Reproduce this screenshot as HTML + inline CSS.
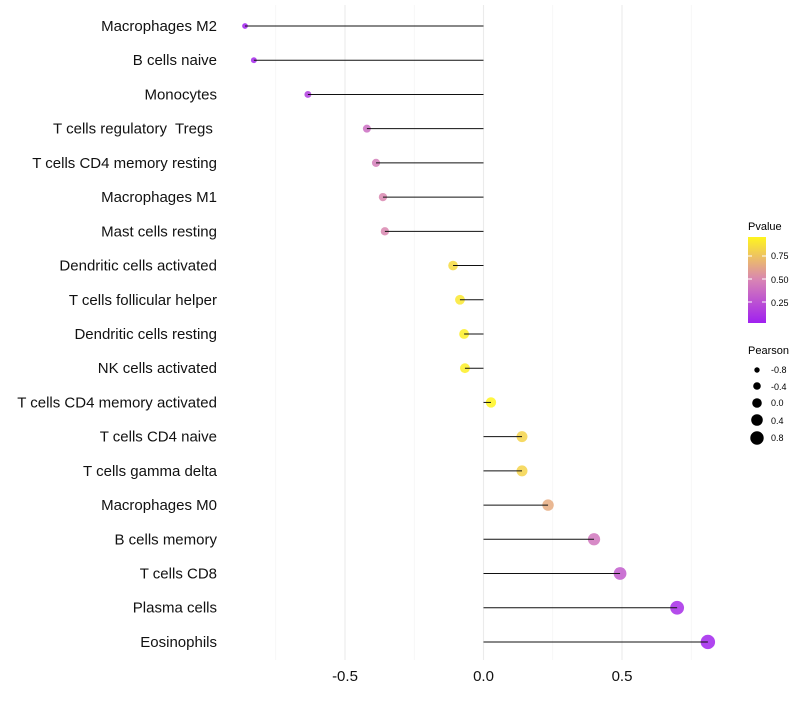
<!DOCTYPE html>
<html><head><meta charset="utf-8"><style>
body{margin:0;background:#fff;font-family:"Liberation Sans",sans-serif;}
text{white-space:pre;}
</style></head><body>
<svg id="chart" width="800" height="700" xmlns="http://www.w3.org/2000/svg">
<defs><linearGradient id="pg" x1="0" y1="1" x2="0" y2="0">
<stop offset="0" stop-color="#a020f0"/><stop offset="0.5" stop-color="#d884b4"/><stop offset="1" stop-color="#fff51e"/></linearGradient></defs>
<g id="grid"></g><g id="marks"></g><g id="labels"></g>
<g font-size="10">
<text x="748" y="230" font-size="11">Pvalue</text>
<rect x="748" y="237" width="18" height="86" fill="url(#pg)"/>
<line x1="748" y1="256" x2="752" y2="256" stroke="#fff"/><line x1="762" y1="256" x2="766" y2="256" stroke="#fff"/>
<line x1="748" y1="279" x2="752" y2="279" stroke="#fff"/><line x1="762" y1="279" x2="766" y2="279" stroke="#fff"/>
<line x1="748" y1="302" x2="752" y2="302" stroke="#fff"/><line x1="762" y1="302" x2="766" y2="302" stroke="#fff"/>
<text x="771" y="259" font-size="9">0.75</text><text x="771" y="283" font-size="9">0.50</text><text x="771" y="306" font-size="9">0.25</text>
</g>
<g font-size="9">
<text x="748" y="354" font-size="11">Pearson</text>
<circle cx="757" cy="370" r="2.7"/><text x="771" y="373">-0.8</text>
<circle cx="757" cy="386" r="3.8"/><text x="771" y="390">-0.4</text>
<circle cx="757" cy="403" r="4.8"/><text x="771" y="406">0.0</text>
<circle cx="757" cy="420" r="5.8"/><text x="771" y="424">0.4</text>
<circle cx="757" cy="438" r="6.7"/><text x="771" y="441">0.8</text>
</g>
</svg>
<script>
const categories=["Macrophages M2","B cells naive","Monocytes","T cells regulatory  Tregs ","T cells CD4 memory resting","Macrophages M1","Mast cells resting","Dendritic cells activated","T cells follicular helper","Dendritic cells resting","NK cells activated","T cells CD4 memory activated","T cells CD4 naive","T cells gamma delta","Macrophages M0","B cells memory","T cells CD8","Plasma cells","Eosinophils"];
const pearson=[-0.861,-0.829,-0.634,-0.421,-0.388,-0.363,-0.356,-0.110,-0.085,-0.070,-0.067,0.027,0.139,0.139,0.233,0.399,0.493,0.699,0.81];
const pvalues=[0.02,0.05,0.15,0.38,0.45,0.5,0.5,0.85,0.9,0.93,0.93,0.96,0.82,0.82,0.65,0.42,0.3,0.08,0.04];
const xTicks=[-0.5,0,0.5];
const xTickLabels=["-0.5","0.0","0.5"];
const minorTicks=[-0.75,-0.25,0.25,0.75];
const NS="http://www.w3.org/2000/svg";
const X=v=>483.5+v*277;
const Y=i=>26+i*34.22;
function col(p){const t=(p-0.02)/(0.956-0.02);const s=[[160,32,240],[216,132,180],[255,245,30]];
 const tt=Math.max(0,Math.min(1,t));let a,b,f;if(tt<0.5){a=s[0];b=s[1];f=tt/0.5}else{a=s[1];b=s[2];f=(tt-0.5)/0.5}
 return `rgb(${a.map((c,k)=>Math.round(c+(b[k]-c)*f)).join(",")})`;}
function mk(tag,attrs,parent){const e=document.createElementNS(NS,tag);for(const k in attrs)e.setAttribute(k,attrs[k]);parent.appendChild(e);return e;}
const grid=document.getElementById('grid'),marks=document.getElementById('marks'),labels=document.getElementById('labels');
minorTicks.forEach(v=>{const l=mk('line',{x1:X(v),x2:X(v),y1:5,y2:660,stroke:'#f2f2f2','stroke-width':0.6},grid);

});
xTicks.forEach((v,i)=>{const l=mk('line',{x1:X(v),x2:X(v),y1:5,y2:660,stroke:'#ebebeb','stroke-width':1.1},grid);


const t=mk('text',{x:X(v),y:681,'text-anchor':'middle','font-size':15,fill:'#111'},labels);t.textContent=xTickLabels[i];

});
categories.forEach((c,i)=>{const y=Y(i);
const t=mk('text',{x:217,y:y+5,'text-anchor':'end','font-size':15,fill:'#111'},labels);t.textContent=c;


const pt=mk('circle',{cx:X(pearson[i]),cy:y,r:5.1+2.6*pearson[i],fill:col(pvalues[i]),'fill-opacity':0.85},marks);


const l=mk('line',{x1:X(0),x2:X(pearson[i]),y1:y,y2:y,stroke:'#111','stroke-width':1},marks);

});
</script>
</body></html>
